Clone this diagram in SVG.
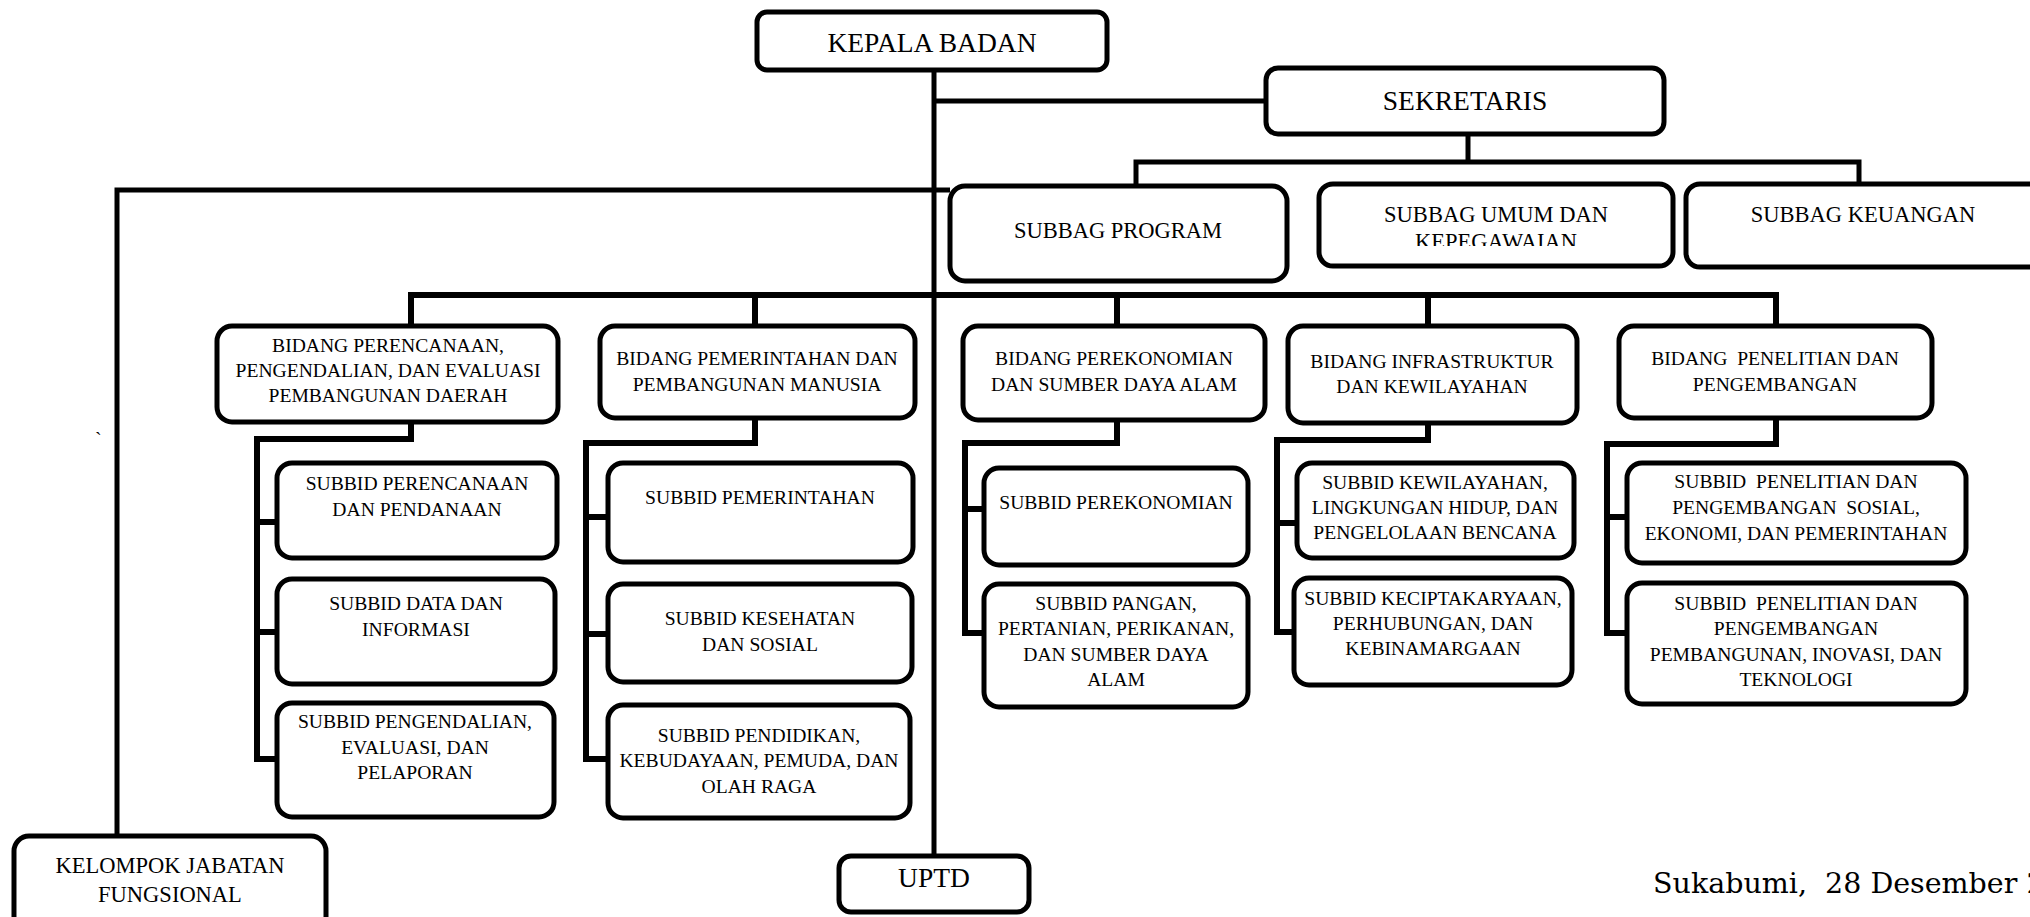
<svg xmlns="http://www.w3.org/2000/svg" width="2030" height="917" viewBox="0 0 2030 917">
<style>
.box{fill:#fff;stroke:#000;stroke-width:5}
.t{font-family:"Liberation Serif","Times New Roman",serif;fill:#000;text-anchor:middle}
.s{font-size:19.6px}
.m{font-size:22.5px}
.l{font-size:27.5px}
.c{fill:none;stroke:#000;stroke-width:5;stroke-linejoin:miter;stroke-linecap:butt}
.c6{stroke-width:6}
</style>
<defs>
<clipPath id="clipUmum"><rect x="1319" y="184" width="354" height="62"/></clipPath>
</defs>
<rect x="0" y="0" width="2030" height="917" fill="#fff"/>
<g id="connectors">
<path class="c" d="M934 70 V856"/>
<path class="c" d="M934 101 H1266"/>
<path class="c" d="M1468 134 V162"/>
<path class="c" d="M1136 186 V162 H1859 V184"/>
<path class="c" d="M117 836 V190 H950"/>
<path class="c c6" d="M411 326 V295 H1776 V326"/>
<path class="c c6" d="M755 295 V326"/>
<path class="c c6" d="M1117 295 V326"/>
<path class="c c6" d="M1428 295 V326"/>
<path class="c c6" d="M411 422 V439 H257 V762"/>
<path class="c c6" d="M257 522 H277 M257 632 H277 M257 759 H277"/>
<path class="c c6" d="M755 418 V443 H586 V762"/>
<path class="c c6" d="M586 517 H608 M586 634 H608 M586 759 H608"/>
<path class="c c6" d="M1117 420 V443 H965 V636"/>
<path class="c c6" d="M965 509 H984 M965 633 H984"/>
<path class="c c6" d="M1428 423 V440 H1277 V635"/>
<path class="c c6" d="M1277 523 H1297 M1277 632 H1294"/>
<path class="c c6" d="M1776 418 V444 H1607 V636"/>
<path class="c c6" d="M1607 517 H1627 M1607 633 H1627"/>
</g>
<g id="kepala-badan"><rect class="box" x="757" y="12" width="350" height="58" rx="10"/><text class="t l" x="932" y="52">KEPALA BADAN</text></g>
<g id="sekretaris"><rect class="box" x="1266" y="68" width="398" height="66" rx="12"/><text class="t l" x="1465" y="110">SEKRETARIS</text></g>
<g id="subbag-program"><rect class="box" x="950" y="186" width="337" height="95" rx="15"/><text class="t m" x="1118" y="238">SUBBAG PROGRAM</text></g>
<g id="subbag-umum"><rect class="box" x="1319" y="184" width="354" height="82" rx="14"/><g clip-path="url(#clipUmum)"><text class="t m" x="1496" y="222">SUBBAG UMUM DAN</text><text class="t m" x="1496" y="249">KEPEGAWAIAN</text></g></g>
<g id="subbag-keuangan"><rect class="box" x="1686" y="184" width="380" height="83" rx="14"/><text class="t m" x="1863" y="222">SUBBAG KEUANGAN</text></g>
<g id="bidang-perencanaan"><rect class="box" x="217" y="326" width="341" height="96" rx="15"/><text class="t s" x="388" y="352">BIDANG PERENCANAAN,</text><text class="t s" x="388" y="377">PENGENDALIAN, DAN EVALUASI</text><text class="t s" x="388" y="402">PEMBANGUNAN DAERAH</text></g>
<g id="subbid-perencanaan"><rect class="box" x="277" y="463" width="280" height="95" rx="15"/><text class="t s" x="417" y="490">SUBBID PERENCANAAN</text><text class="t s" x="417" y="516">DAN PENDANAAN</text></g>
<g id="subbid-data"><rect class="box" x="277" y="579" width="278" height="105" rx="15"/><text class="t s" x="416" y="610">SUBBID DATA DAN</text><text class="t s" x="416" y="636">INFORMASI</text></g>
<g id="subbid-pengendalian"><rect class="box" x="277" y="703" width="277" height="114" rx="15"/><text class="t s" x="415" y="728">SUBBID PENGENDALIAN,</text><text class="t s" x="415" y="754">EVALUASI, DAN</text><text class="t s" x="415" y="779">PELAPORAN</text></g>
<g id="bidang-pemerintahan"><rect class="box" x="600" y="326" width="315" height="92" rx="15"/><text class="t s" x="757" y="365">BIDANG PEMERINTAHAN DAN</text><text class="t s" x="757" y="391">PEMBANGUNAN MANUSIA</text></g>
<g id="subbid-pemerintahan"><rect class="box" x="608" y="463" width="305" height="99" rx="15"/><text class="t s" x="760" y="504">SUBBID PEMERINTAHAN</text></g>
<g id="subbid-kesehatan"><rect class="box" x="608" y="584" width="304" height="98" rx="15"/><text class="t s" x="760" y="625">SUBBID KESEHATAN</text><text class="t s" x="760" y="651">DAN SOSIAL</text></g>
<g id="subbid-pendidikan"><rect class="box" x="608" y="705" width="302" height="113" rx="15"/><text class="t s" x="759" y="742">SUBBID PENDIDIKAN,</text><text class="t s" x="759" y="767">KEBUDAYAAN, PEMUDA, DAN</text><text class="t s" x="759" y="793">OLAH RAGA</text></g>
<g id="bidang-perekonomian"><rect class="box" x="963" y="326" width="302" height="94" rx="15"/><text class="t s" x="1114" y="365">BIDANG PEREKONOMIAN</text><text class="t s" x="1114" y="391">DAN SUMBER DAYA ALAM</text></g>
<g id="subbid-perekonomian"><rect class="box" x="984" y="468" width="264" height="97" rx="15"/><text class="t s" x="1116" y="509">SUBBID PEREKONOMIAN</text></g>
<g id="subbid-pangan"><rect class="box" x="984" y="584" width="264" height="123" rx="15"/><text class="t s" x="1116" y="610">SUBBID PANGAN,</text><text class="t s" x="1116" y="635">PERTANIAN, PERIKANAN,</text><text class="t s" x="1116" y="661">DAN SUMBER DAYA</text><text class="t s" x="1116" y="686">ALAM</text></g>
<g id="bidang-infrastruktur"><rect class="box" x="1288" y="326" width="289" height="97" rx="15"/><text class="t s" x="1432" y="368">BIDANG INFRASTRUKTUR</text><text class="t s" x="1432" y="393">DAN KEWILAYAHAN</text></g>
<g id="subbid-kewilayahan"><rect class="box" x="1297" y="463" width="277" height="95" rx="15"/><text class="t s" x="1435" y="489">SUBBID KEWILAYAHAN,</text><text class="t s" x="1435" y="514">LINGKUNGAN HIDUP, DAN</text><text class="t s" x="1435" y="539">PENGELOLAAN BENCANA</text></g>
<g id="subbid-keciptakaryaan"><rect class="box" x="1294" y="578" width="278" height="107" rx="15"/><text class="t s" x="1433" y="605">SUBBID KECIPTAKARYAAN,</text><text class="t s" x="1433" y="630">PERHUBUNGAN, DAN</text><text class="t s" x="1433" y="655">KEBINAMARGAAN</text></g>
<g id="bidang-penelitian"><rect class="box" x="1619" y="326" width="313" height="92" rx="15"/><text class="t s" x="1775" y="365" xml:space="preserve">BIDANG  PENELITIAN DAN</text><text class="t s" x="1775" y="391">PENGEMBANGAN</text></g>
<g id="subbid-penelitian-sosial"><rect class="box" x="1627" y="463" width="339" height="100" rx="15"/><text class="t s" x="1796" y="488" xml:space="preserve">SUBBID  PENELITIAN DAN</text><text class="t s" x="1796" y="514" xml:space="preserve">PENGEMBANGAN  SOSIAL,</text><text class="t s" x="1796" y="540">EKONOMI, DAN PEMERINTAHAN</text></g>
<g id="subbid-penelitian-pembangunan"><rect class="box" x="1627" y="583" width="339" height="121" rx="15"/><text class="t s" x="1796" y="610" xml:space="preserve">SUBBID  PENELITIAN DAN</text><text class="t s" x="1796" y="635">PENGEMBANGAN</text><text class="t s" x="1796" y="661">PEMBANGUNAN, INOVASI, DAN</text><text class="t s" x="1796" y="686">TEKNOLOGI</text></g>
<g id="kelompok-jabatan"><rect class="box" x="14" y="836" width="312" height="100" rx="15"/><text class="t m" x="170" y="873">KELOMPOK JABATAN</text><text class="t m" x="170" y="902">FUNGSIONAL</text></g>
<g id="uptd"><rect class="box" x="839" y="856" width="190" height="56" rx="12"/><text class="t l" x="934" y="887">UPTD</text></g>
<text x="95" y="447" font-family="Liberation Serif, serif" font-size="20">`</text>
<text x="1653" y="893" font-family="DejaVu Serif, serif" font-size="28.5" xml:space="preserve">Sukabumi,  28 Desember 2</text>
</svg>
